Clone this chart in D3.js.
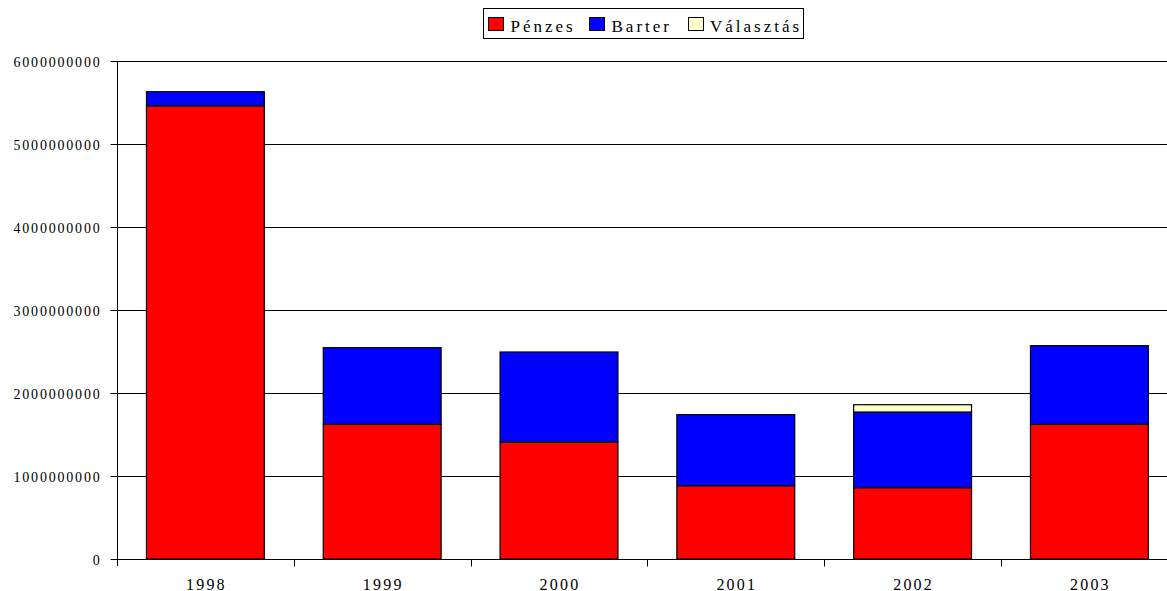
<!DOCTYPE html>
<html>
<head>
<meta charset="utf-8">
<script src="https://cdn.jsdelivr.net/npm/d3@7"></script>
<style>
  html, body { margin: 0; padding: 0; background: #fff; }
  svg { display: block; }
  text { font-family: "Liberation Serif", "DejaVu Serif", serif; fill: #000; }
</style>
</head>
<body>
<svg id="chart" width="1167" height="591"></svg>
<script>
const years = ["1998", "1999", "2000", "2001", "2002", "2003"];
const penzes = [5.46e9, 1.623e9, 1.41e9, 0.883e9, 0.859e9, 1.623e9];
const barter = [0.17e9, 0.923e9, 1.084e9, 0.856e9, 0.912e9, 0.947e9];
const valasztas = [0, 0, 0, 0, 0.088e9, 0];
const seriesNames = ["Pénzes", "Barter", "Választás"];
const seriesColors = ["#FF0000", "#0000FF", "#FFFFCC"];
const yTicks = [0, 1e9, 2e9, 3e9, 4e9, 5e9, 6e9];

(function () {
const svg = d3.select("#chart");
const mLeft = 117, mBottom = 559, mTop = 61;
const step = 176.8;

const rows = years.map((y, i) => ({ year: y, "Pénzes": penzes[i], "Barter": barter[i], "Választás": valasztas[i] }));
const stacked = d3.stack().keys(seriesNames)(rows);

const x = d3.scaleBand().domain(years).range([mLeft, mLeft + step * years.length])
  .paddingInner(1 / 3).paddingOuter(1 / 6);
const y = d3.scaleLinear().domain([0, 6e9]).range([mBottom, mTop]);

// gridlines
svg.append("g").selectAll("line").data(yTicks.filter(d => d > 0)).join("line")
  .attr("x1", mLeft).attr("x2", 1167)
  .attr("y1", d => Math.round(y(d)) + 0.5).attr("y2", d => Math.round(y(d)) + 0.5)
  .attr("stroke", "#000").attr("stroke-width", 1);

// bars
svg.append("g").selectAll("g").data(stacked).join("g")
  .attr("fill", (d, i) => seriesColors[i])
  .selectAll("rect").data(d => d.filter(s => s[1] - s[0] > 0)).join("rect")
  .attr("x", d => x(d.data.year))
  .attr("width", x.bandwidth())
  .attr("y", d => y(d[1]))
  .attr("height", d => y(d[0]) - y(d[1]))
  .attr("stroke", "#000").attr("stroke-width", 1.2);

// y axis
const yAxis = svg.append("g").attr("transform", `translate(${mLeft + 0.5},0)`)
  .call(d3.axisLeft(y).tickValues(yTicks).tickFormat(d3.format("d")).tickSize(7).tickSizeOuter(0));
yAxis.select(".domain").attr("d", `M0,${mTop}V${mBottom + 7}`).attr("stroke", "#000");
yAxis.selectAll(".tick line").attr("stroke", "#000");
yAxis.selectAll(".tick text")
  .attr("x", -16)
  .attr("dy", "0.36em")
  .style("font-size", "14px")
  .style("letter-spacing", "1.8px")
  .style("font-family", '"Liberation Serif", serif');

// x axis
const xAxis = svg.append("g").attr("transform", `translate(0,${mBottom + 0.5})`)
  .call(d3.axisBottom(x).tickSize(0).tickSizeOuter(0));
xAxis.select(".domain").attr("d", `M${mLeft},0H1167`).attr("stroke", "#000");
xAxis.selectAll(".tick text")
  .attr("y", 30)
  .attr("dy", 0)
  .attr("dx", "1px")
  .style("font-size", "16px")
  .style("letter-spacing", "2.2px")
  .style("font-family", '"Liberation Serif", serif');
// category boundary ticks
const boundaries = years.map((d, i) => mLeft + step * i).concat([mLeft + step * years.length]);
xAxis.append("g").selectAll("line").data(boundaries.slice(1)).join("line")
  .attr("x1", d => Math.round(d) + 0.5).attr("x2", d => Math.round(d) + 0.5)
  .attr("y1", 0).attr("y2", 7).attr("stroke", "#000");

// legend
const lg = svg.append("g");
lg.append("rect").attr("x", 483.5).attr("y", 8.5).attr("width", 320).attr("height", 30)
  .attr("fill", "#fff").attr("stroke", "#000").attr("stroke-width", 1);
const swatchX = [488, 589, 688];
const textX = [510.5, 611.5, 710];
seriesNames.forEach((name, i) => {
  lg.append("rect").attr("x", swatchX[i] + 0.5).attr("y", 17.5).attr("width", 15).attr("height", 13)
    .attr("fill", seriesColors[i]).attr("stroke", "#000").attr("stroke-width", 1);
  lg.append("text").attr("x", textX[i]).attr("y", 31.5)
    .style("font-size", "17px").style("letter-spacing", "3px")
    .text(name);
});
})();
</script>
</body>
</html>
